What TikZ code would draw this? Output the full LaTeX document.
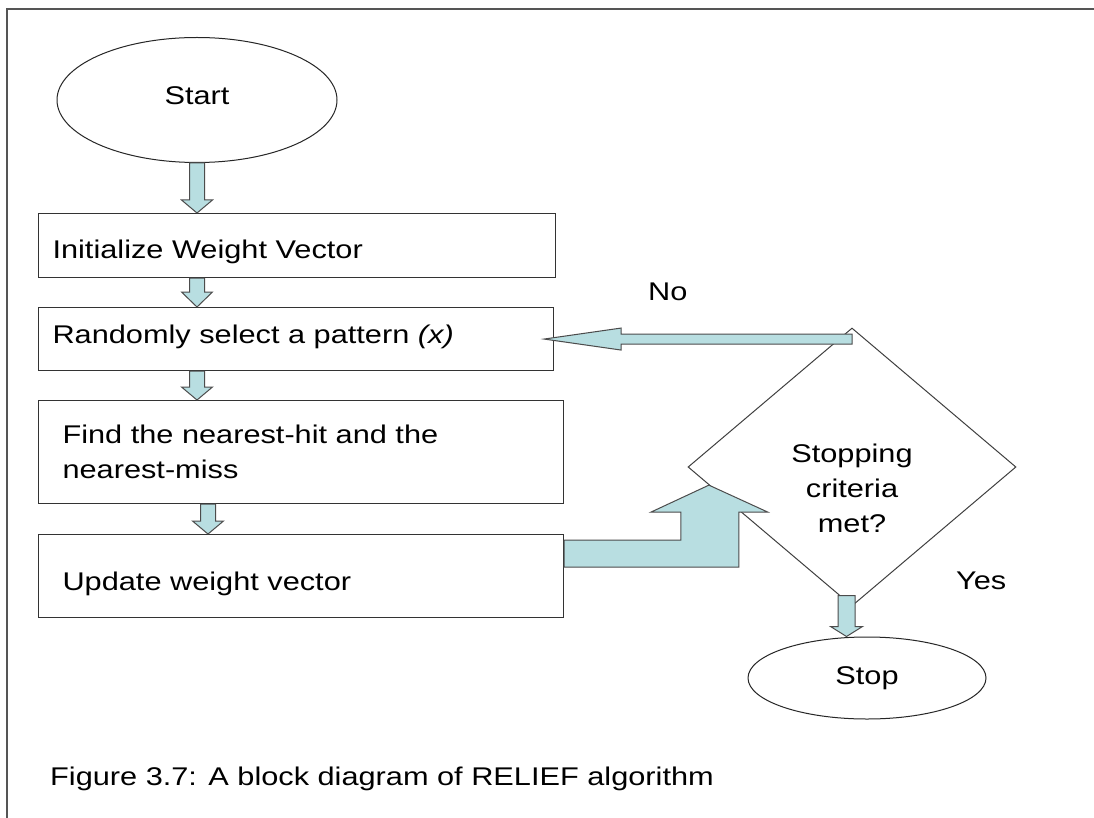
\documentclass[tikz,border=0pt]{standalone}
\usepackage{fontspec}
\setmainfont{Liberation Sans}[FakeStretch=1.2]
\usetikzlibrary{shapes.geometric,calc}

\definecolor{arrowfill}{HTML}{B8DEE1}
\definecolor{framegray}{HTML}{555555}
\newcommand\diafont{\fontsize{25.6pt}{35pt}\selectfont}

% block arrow pointing down: #1 top of shaft, #2 tip, #3 head length
\newcommand\downblock[3]{%
  \path[blockarrow] let \p1=(#1), \p2=(#2) in
    (\x1-7.5pt,\y1) -- (\x1+7.5pt,\y1) -- (\x1+7.5pt,\y2+#3) -- (\x1+15.5pt,\y2+#3)
    -- (\x1,\y2) -- (\x1-15.5pt,\y2+#3) -- (\x1-7.5pt,\y2+#3) -- cycle;}

\begin{document}
\begin{tikzpicture}[x=1pt,y=-1pt,
  every node/.style={font=\diafont, text=black},
  terminal/.style={ellipse, draw=black!85, line width=1pt, fill=white, inner sep=0pt},
  stepbox/.style={rectangle, draw=black!80, line width=1.1pt, fill=white, anchor=north west,
                  align=left, inner ysep=0pt},
  decision/.style={diamond, draw=black!75, line width=1pt, fill=white, inner sep=0pt},
  blockarrow/.style={fill=arrowfill, draw=black!70, line width=1pt, line join=miter},
  plain/.style={anchor=base west, inner sep=0pt}]

\useasboundingbox (0,0) rectangle (1094,818);
\fill[white] (0,0) rectangle (1094,818);

% frame
\draw[framegray, line width=2pt] (1094,9) -- (7,9) -- (7,818);

% flow nodes
\node[terminal, minimum width=280pt, minimum height=125pt, text height=18pt, text depth=8pt]
  (start) at (197,100) {Start};

\node[stepbox, text width=489pt, inner xsep=14pt, minimum height=64pt,
      text height=31pt, text depth=5pt] (init) at (38,213) {Initialize Weight Vector};
\node[stepbox, text width=487pt, inner xsep=14pt, minimum height=63pt,
      text height=15pt, text depth=6pt] (sel) at (38,307) {Randomly select a pattern \textit{(x)}};
\node[stepbox, text width=477pt, inner xsep=24pt, minimum height=103pt]
  (find) at (38,400) {Find the nearest-hit and the\\nearest-miss};
\node[stepbox, text width=477pt, inner xsep=24pt, minimum height=83pt,
      text height=35pt, text depth=6pt] (upd) at (38,534) {Update weight vector};

\node[decision, minimum width=328pt, minimum height=278pt] (dec) at (852,467) {};
\node[align=center, inner sep=0pt] (dectext) at ($(dec.center)+(0,21.5)$) {Stopping\\criteria\\met?};

\node[terminal, minimum width=238pt, minimum height=82pt] (stop) at (867,678) {Stop};

% labels
\node[plain] (no) at (648,300) {No};
\node[plain] (yes) at (956,589) {Yes};
\node[plain] (caption) at (50,785) {Figure 3.7: A block diagram of RELIEF algorithm};

% downward block arrows
\downblock{start.south}{start.south |- init.north}{13pt}
\downblock{start.south |- init.south}{start.south |- sel.north}{15pt}
\downblock{start.south |- sel.south}{start.south |- find.north}{13pt}
\coordinate (a4top) at ($(find.south west)+(170,0)$);
\downblock{a4top}{a4top |- upd.north}{13pt}

% "No" arrow back to the pattern selection
\path[blockarrow] let \p1=(dec.north), \p2=($(sel.east)+(-10,0)$) in
  (\x1,\y2+5pt) -- (\x2+77pt,\y2+5pt) -- (\x2+77pt,\y2+11pt) -- (\x2,\y2)
  -- (\x2+77pt,\y2-11pt) -- (\x2+77pt,\y2-5pt) -- (\x1,\y2-5pt) -- cycle;

% bent-up arrow from the update box into the decision
\coordinate (bt) at ($(dec.west)!0.13!(dec.south)$);
\path[blockarrow] let \p1=(upd.east), \p2=(bt) in
  (\x1,\y2-55pt) -- (\x2-28pt,\y2-55pt) -- (\x2-28pt,\y2-27pt) -- (\x2-58pt,\y2-27pt)
  -- (\x2,\y2) -- (\x2+59pt,\y2-27pt) -- (\x2+30pt,\y2-27pt) -- (\x2+30pt,\y2-82pt)
  -- (\x1,\y2-82pt) -- cycle;

% "Yes" arrow down to Stop
\coordinate (st) at ($(dec.south)+(-5.5,-11)$);
\path[blockarrow] let \p1=(st), \p2=(st |- stop.north) in
  (\x1-8.5pt,\y1) -- (\x1+8.5pt,\y1) -- (\x1+8.5pt,\y2+10pt) -- (\x1+16pt,\y2+10pt)
  -- (\x1,\y2) -- (\x1-16pt,\y2+10pt) -- (\x1-8.5pt,\y2+10pt) -- cycle;

\end{tikzpicture}
\end{document}
